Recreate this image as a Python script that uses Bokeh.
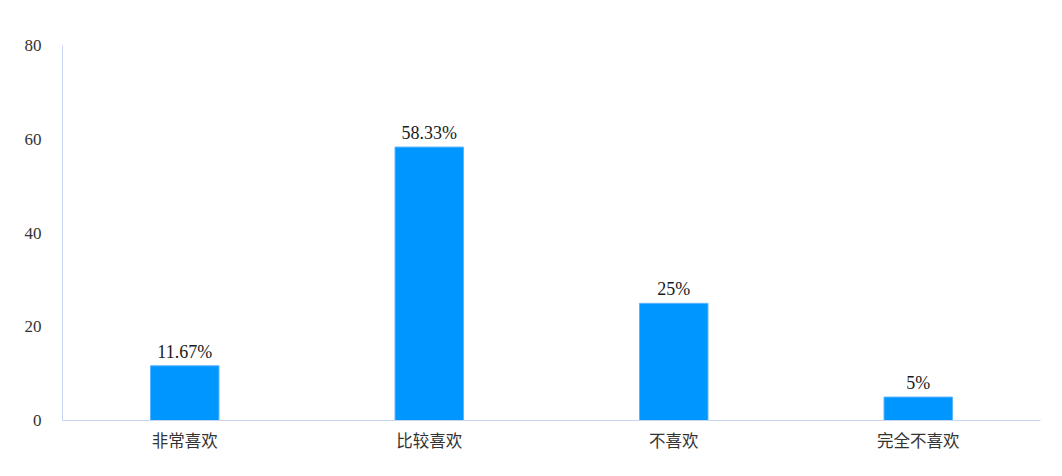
from bokeh.plotting import figure
from bokeh.models import ColumnDataSource, FixedTicker, LabelSet, Range1d
from bokeh.core.properties import value
from bokeh.embed import file_html
from bokeh.resources import INLINE

categories = ["非常喜欢", "比较喜欢", "不喜欢", "完全不喜欢"]
values = [11.67, 58.33, 25, 5]
labels = ["11.67%", "58.33%", "25%", "5%"]
y_ticks = [0, 20, 40, 60, 80]

src = ColumnDataSource(dict(cat=categories, val=values, lab=labels))

p = figure(x_range=categories, y_range=Range1d(0, 80), width=1062, height=476,
           output_backend="svg", toolbar_location=None,
           min_border_left=62, min_border_right=22, min_border_top=45, min_border_bottom=56)
p.outline_line_color = None
p.border_fill_color = "white"
p.xgrid.grid_line_color = None
p.ygrid.grid_line_color = None

p.vbar(x="cat", top="val", width=0.28, source=src, fill_color="#0096ff",
       line_color="#5ab4ff", line_width=1)

p.add_layout(LabelSet(x="cat", y="val", text="lab", source=src, text_align="center",
                      text_baseline="bottom", y_offset=4, text_font=value("Liberation Serif"),
                      text_font_size="18px", text_color="#1a1a1a"))

ax = p.yaxis[0]
ax.ticker = FixedTicker(ticks=y_ticks)
ax.axis_line_color = "#c5d5f2"
ax.major_tick_line_color = None
ax.minor_tick_line_color = None
ax.major_label_text_font = "Liberation Serif"
ax.major_label_text_font_size = "17px"
ax.major_label_text_color = "#333333"
ax.major_label_standoff = 15

xa = p.xaxis[0]
xa.axis_line_color = "#c5d5f2"
xa.major_tick_line_color = None
xa.minor_tick_line_color = None
xa.major_label_text_font = "Noto Sans CJK SC"
xa.major_label_text_font_size = "16.5px"
xa.major_label_text_color = "#333333"
xa.major_label_standoff = 1

open("out.html", "w").write(file_html(p, INLINE))
